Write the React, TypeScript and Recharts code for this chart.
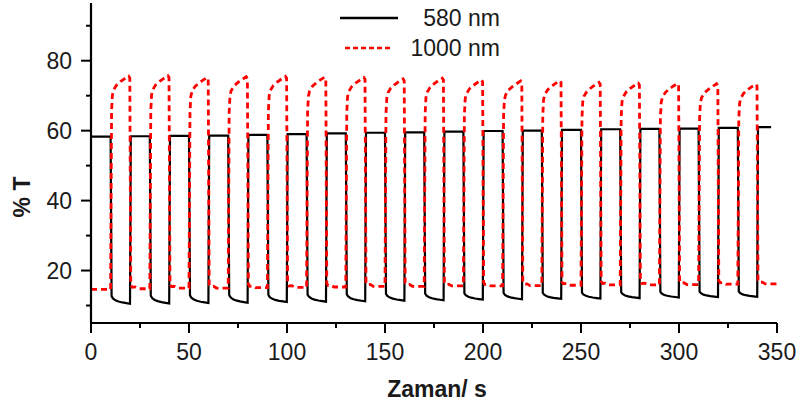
import { LineChart, Line, XAxis, YAxis, Legend } from "recharts";

// Square-wave switching of the film, 10 s per state
const FONT = '"Liberation Sans", Arial, sans-serif';

// 580 nm (black): level of each bleached plateau, at t = 0, 20, ..., 340 s
const high580 = [
  58.3, 58.4, 58.5, 58.6, 58.8, 59.0, 59.2, 59.4, 59.5, 59.7, 59.9, 60.0,
  60.2, 60.4, 60.5, 60.6, 60.8, 61.0,
];
// 580 nm: start and end of each coloured plateau, at t = 10..20, 30..40, ...
const lowStart580 = [
  12.7, 12.8, 12.9, 13.0, 13.0, 13.1, 13.2, 13.3, 13.4, 13.5, 13.6, 13.6,
  13.7, 13.8, 13.9, 14.0, 14.0,
];
const lowEnd580 = [
  10.5, 10.6, 10.7, 10.8, 11.0, 11.1, 11.2, 11.4, 11.5, 11.7, 11.8, 11.9,
  12.0, 12.1, 12.3, 12.4, 12.5,
];
// decay inside a coloured plateau: [seconds after switch, share of the drop left]
const decay580 = [
  [0.5, 1], [1.2, 0.7], [2.5, 0.45], [4, 0.3], [6, 0.17], [8, 0.08], [9.9, 0],
];

// 1000 nm (red): peak of each high state and level of each low state
const peak1000 = [
  75.6, 75.7, 75.2, 75.4, 75.5, 75.3, 75.2, 74.8, 75.0, 74.5, 74.2, 74.3,
  73.8, 73.6, 73.5, 73.4, 73.3,
];
const low1000 = [
  14.6, 14.8, 15.0, 15.0, 15.1, 15.2, 15.3, 15.5, 15.5, 15.6, 15.6, 15.7,
  15.8, 15.9, 15.9, 16.0, 16.1, 16.2,
];
// rise shape: [seconds after switch, %T below the peak]
const rise1000 = [
  [0.3, -30], [0.5, -10], [0.9, -5.5], [1.5, -4], [3, -2.6], [5, -1.6],
  [7, -0.8], [9.2, 0], [9.8, -0.5],
];
// low shape after the drop: [seconds after switch, %T above the low level]
const settle1000 = [[0.3, 1.0], [1, 0.4], [2.5, 0.5], [4, 0], [9.9, 0]];

const endTime = 347;
const xTicks = [0, 25, 50, 75, 100, 125, 150, 175, 200, 225, 250, 275, 300, 325, 350];
const yTicks = [10, 20, 30, 40, 50, 60, 70, 80, 90];

const data580: { t: number; v: number }[] = [];
high580.forEach((h, k) => {
  data580.push({ t: k === 0 ? 0 : 20 * k + 0.3, v: h });
  if (k < lowEnd580.length) {
    data580.push({ t: 20 * k + 10, v: h });
    const a = lowStart580[k];
    const b = lowEnd580[k];
    decay580.forEach(([dt, f]) => data580.push({ t: 20 * k + 10 + dt, v: b + f * (a - b) }));
  } else {
    data580.push({ t: endTime, v: h });
  }
});

const data1000: { t: number; v: number }[] = [];
low1000.forEach((l, k) => {
  if (k === 0) data1000.push({ t: 0, v: l });
  else settle1000.forEach(([dt, d]) => data1000.push({ t: 20 * k + dt, v: l + d }));
  if (k < peak1000.length) {
    data1000.push({ t: 20 * k + 10, v: l });
    rise1000.forEach(([dt, d]) => data1000.push({ t: 20 * k + 10 + dt, v: peak1000[k] + d }));
  } else {
    data1000.push({ t: endTime, v: l });
  }
});

const textColor = "#1a1a1a";

function XTick(props: any) {
  const { x, y, payload } = props;
  const major = payload.value % 50 === 0;
  return (
    <g>
      <line x1={x} x2={x} y1={y} y2={y + (major ? 10 : 5)} stroke="#000" strokeWidth={2} />
      {major && (
        <text x={x} y={y + 37} textAnchor="middle" fontSize={23} fontFamily={FONT} fill={textColor}>
          {payload.value}
        </text>
      )}
    </g>
  );
}

function YTick(props: any) {
  const { x, y, payload } = props;
  const major = payload.value % 20 === 0;
  return (
    <g>
      <line x1={x} x2={x - (major ? 10 : 5)} y1={y} y2={y} stroke="#000" strokeWidth={2} />
      {major && (
        <text x={x - 19} y={y + 8} textAnchor="end" fontSize={23} fontFamily={FONT} fill={textColor}>
          {payload.value}
        </text>
      )}
    </g>
  );
}

function LegendBox() {
  return (
    <svg width={800} height={64} style={{ display: "block" }}>
      <line x1={340} x2={398} y1={18} y2={18} stroke="#000" strokeWidth={2.5} />
      <text x={500} y={26} textAnchor="end" fontSize={23} fontFamily={FONT} fill={textColor}>
        580 nm
      </text>
      <line x1={345} x2={393} y1={48} y2={48} stroke="#ff0000" strokeWidth={2.6} strokeDasharray="5 3" />
      <text x={500} y={56} textAnchor="end" fontSize={23} fontFamily={FONT} fill={textColor}>
        1000 nm
      </text>
    </svg>
  );
}

export default function App() {
  return (
    <div style={{ position: "absolute", left: 0, top: 0, width: 800, height: 407, background: "#fff" }}>
      <LineChart width={800} height={407} margin={{ top: 3, right: 23, bottom: 0, left: 0 }}>
        <XAxis
          type="number"
          dataKey="t"
          domain={[0, 350]}
          ticks={xTicks}
          interval={0}
          height={84}
          tickSize={0}
          tickMargin={0}
          tickLine={false}
          axisLine={{ stroke: "#000", strokeWidth: 2.2 }}
          tick={<XTick />}
          allowDataOverflow
          label={{
            content: () => (
              <text x={437} y={397} textAnchor="middle" fontSize={23} fontWeight="bold" fontFamily={FONT} fill={textColor}>
                Zaman/ s
              </text>
            ),
          }}
        />
        <YAxis
          type="number"
          dataKey="v"
          domain={[5, 96.5]}
          ticks={yTicks}
          interval={0}
          width={91}
          tickSize={0}
          tickMargin={0}
          tickLine={false}
          axisLine={{ stroke: "#000", strokeWidth: 2.2 }}
          tick={<YTick />}
          allowDataOverflow
          label={{
            content: () => (
              <text
                x={30}
                y={197}
                transform="rotate(-90 30 197)"
                textAnchor="middle"
                fontSize={23}
                fontWeight="bold"
                fontFamily={FONT}
                fill={textColor}
              >
                % T
              </text>
            ),
          }}
        />
        <Legend
          verticalAlign="middle"
          align="center"
          wrapperStyle={{ top: 0, left: 0, width: 800 }}
          content={() => <LegendBox />}
        />
        <Line
          data={data580}
          dataKey="v"
          name="580 nm"
          type="linear"
          stroke="#000"
          strokeWidth={2.2}
          dot={false}
          activeDot={false}
          isAnimationActive={false}
        />
        <Line
          data={data1000}
          dataKey="v"
          name="1000 nm"
          type="linear"
          stroke="#ff0000"
          strokeWidth={2.8}
          strokeDasharray="6 4"
          dot={false}
          activeDot={false}
          isAnimationActive={false}
        />
      </LineChart>
    </div>
  );
}
